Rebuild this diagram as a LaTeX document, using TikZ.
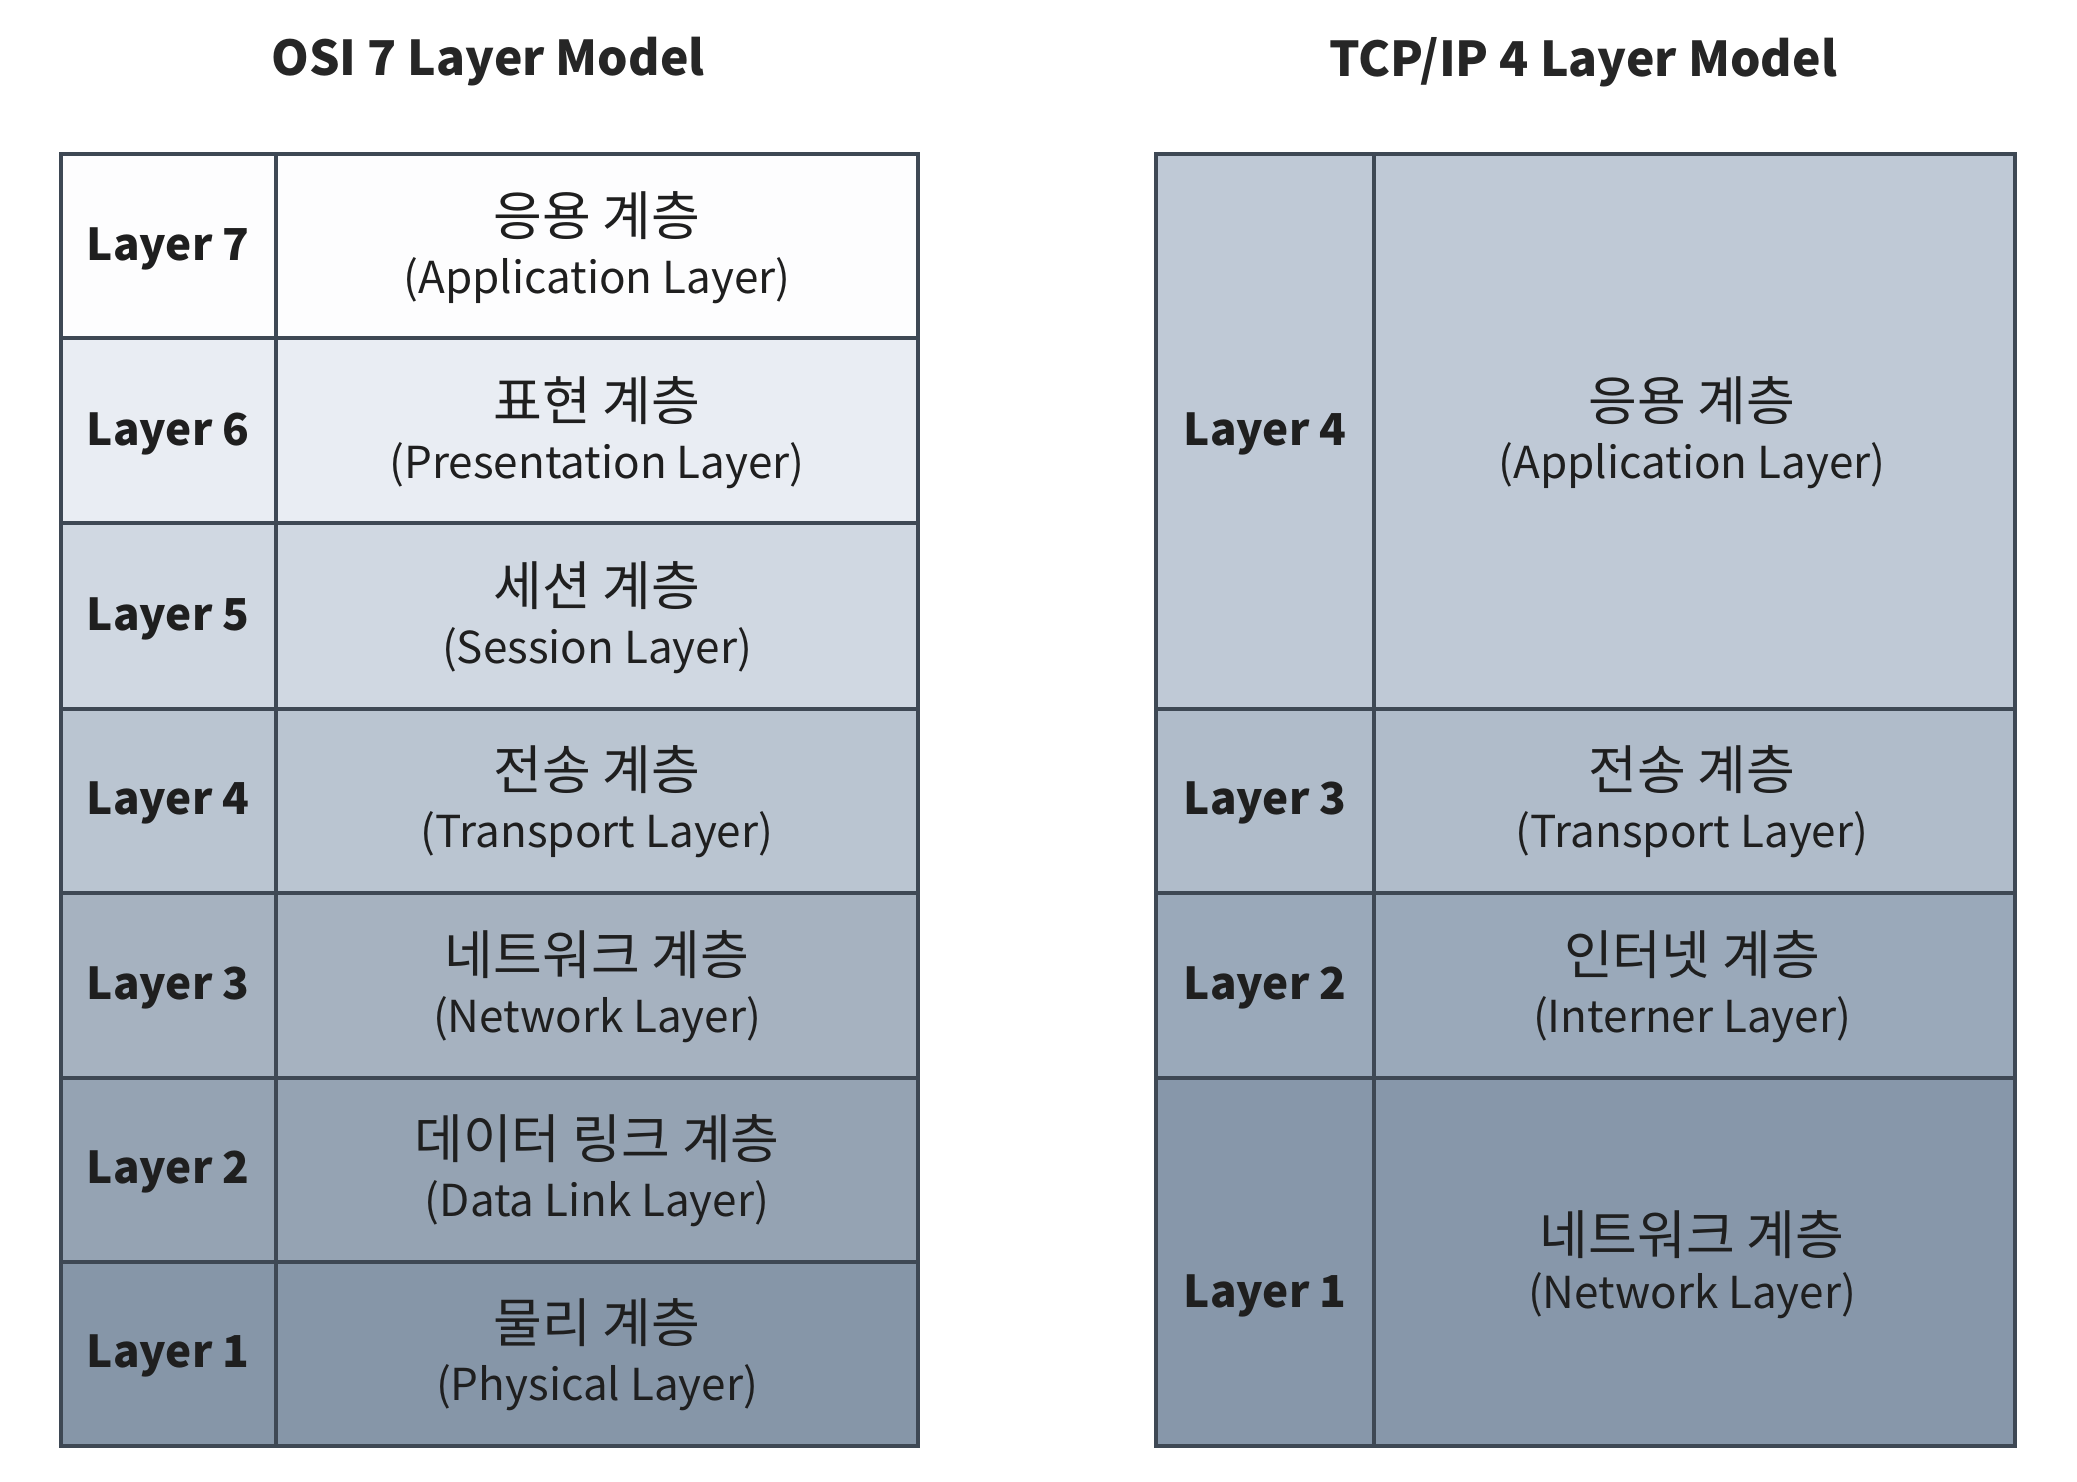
\documentclass[tikz,border=0pt]{standalone}
\usepackage{fontspec}
\setmainfont{Noto Sans CJK KR}
\begin{document}
\begin{tikzpicture}[x=0.5pt,y=-0.5pt,
  grid/.style={draw=gridc, line width=1.8pt},
  lbl/.style={font=\bfseries\fontsize{22}{26}\selectfont, text=black!88},
  kr/.style={font=\fontsize{26.5}{30}\selectfont, text=black!88},
  en/.style={font=\fontsize{22}{26}\selectfont, text=black!88},
  ttl/.style={font=\bfseries\fontsize{24}{30}\selectfont, text=black!85}]
\definecolor{gridc}{HTML}{3E4854}
\definecolor{oA}{HTML}{FDFDFE}
\definecolor{oB}{HTML}{E9EDF3}
\definecolor{oC}{HTML}{D0D8E2}
\definecolor{oD}{HTML}{BAC5D1}
\definecolor{oE}{HTML}{A6B2C0}
\definecolor{oF}{HTML}{95A3B3}
\definecolor{oG}{HTML}{8696A8}
\definecolor{tA}{HTML}{BFC9D6}
\definecolor{tB}{HTML}{B0BCCA}
\definecolor{tC}{HTML}{9AA9BA}
\definecolor{tD}{HTML}{8797AA}
\useasboundingbox[fill=white] (0,0) rectangle (2077,1482);

% titles
\node[ttl] (osiT) at (488,62) {OSI 7 Layer Model};
\node[ttl] (tcpT) at (1583,62) {TCP/IP 4 Layer Model};

% OSI row fills
\fill[oA] (61,154) rectangle (918,338);
\fill[oB] (61,338) rectangle (918,523);
\fill[oC] (61,523) rectangle (918,709);
\fill[oD] (61,709) rectangle (918,893);
\fill[oE] (61,893) rectangle (918,1078);
\fill[oF] (61,1078) rectangle (918,1262);
\fill[oG] (61,1262) rectangle (918,1446);
% OSI grid
\foreach \yy in {338,523,709,893,1078,1262} \draw[grid] (61,\yy) -- (918,\yy);
\draw[grid] (276,154) -- (276,1446);
\draw[grid] (61,154) rectangle (918,1446);

% OSI layer numbers
\node[lbl] (o7) at (168,249) {Layer 7};
\node[lbl] (o6) at (168,434) {Layer 6};
\node[lbl] (o5) at (168,619) {Layer 5};
\node[lbl] (o4) at (168,803) {Layer 4};
\node[lbl] (o3) at (168,988) {Layer 3};
\node[lbl] (o2) at (168,1172) {Layer 2};
\node[lbl] (o1) at (168,1356) {Layer 1};

% OSI layer names (Korean line, English line)
\node[kr] (k7) at (597,216) {응용 계층};
\node[en] (n7) at (597,281) {(Application Layer)};
\node[kr] (k6) at (597,401) {표현 계층};
\node[en] (n6) at (597,466) {(Presentation Layer)};
\node[kr] (k5) at (597,586) {세션 계층};
\node[en] (n5) at (597,651) {(Session Layer)};
\node[kr] (k4) at (597,770) {전송 계층};
\node[en] (n4) at (597,835) {(Transport Layer)};
\node[kr] (k3) at (597,955) {네트워크 계층};
\node[en] (n3) at (597,1020) {(Network Layer)};
\node[kr] (k2) at (597,1139) {데이터 링크 계층};
\node[en] (n2) at (597,1204) {(Data Link Layer)};
\node[kr] (k1) at (597,1323) {물리 계층};
\node[en] (n1) at (597,1388) {(Physical Layer)};

% TCP/IP row fills
\fill[tA] (1156,154) rectangle (2015,709);
\fill[tB] (1156,709) rectangle (2015,893);
\fill[tC] (1156,893) rectangle (2015,1078);
\fill[tD] (1156,1078) rectangle (2015,1446);
\foreach \yy in {709,893,1078} \draw[grid] (1156,\yy) -- (2015,\yy);
\draw[grid] (1374,154) -- (1374,1446);
\draw[grid] (1156,154) rectangle (2015,1446);

\node[lbl] (t4) at (1265,434) {Layer 4};
\node[lbl] (t3) at (1265,803) {Layer 3};
\node[lbl] (t2) at (1265,988) {Layer 2};
\node[lbl] (t1) at (1265,1296) {Layer 1};

\node[kr] (m4) at (1692,401) {응용 계층};
\node[en] (p4) at (1692,466) {(Application Layer)};
\node[kr] (m3) at (1692,770) {전송 계층};
\node[en] (p3) at (1692,835) {(Transport Layer)};
\node[kr] (m2) at (1692,955) {인터넷 계층};
\node[en] (p2) at (1692,1020) {(Interner Layer)};
\node[kr] (m1) at (1692,1235) {네트워크 계층};
\node[en] (p1) at (1692,1296) {(Network Layer)};
\end{tikzpicture}
\end{document}
